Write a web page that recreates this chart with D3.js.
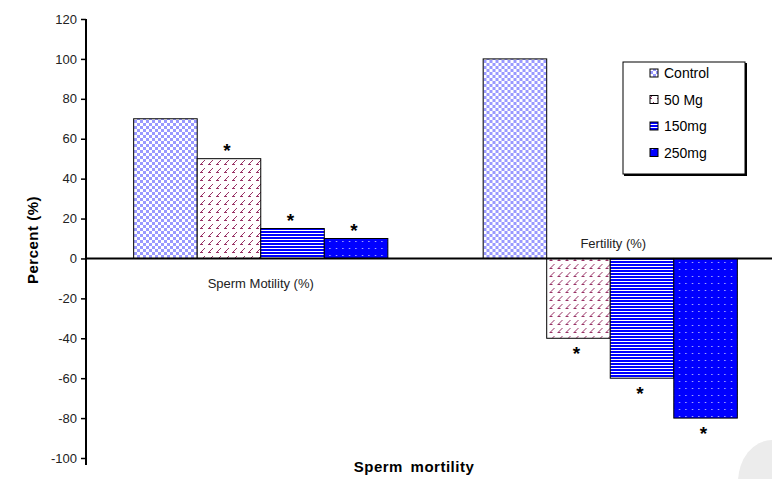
<!DOCTYPE html>
<html>
<head>
  <meta charset='utf-8'>
  <title>Sperm mortility</title>
  <script src='https://cdn.jsdelivr.net/npm/d3@7/dist/d3.min.js'></script>
  <style>
    body { margin: 0; background: #fff; }
    text { font-family: 'Liberation Sans', Arial, sans-serif; fill: #222; }
  </style>
</head>
<body>
  <svg id='chart' width='772' height='479'></svg>
  <script>
    // chart data
    const categories = ['Sperm Motility (%)', 'Fertility (%)'];
    const seriesNames = ['Control', '50 Mg', '150mg', '250mg'];
    const motility = [70, 50, 15, 10];
    const fertility = [100, -40, -60, -80];
    const starred = [false, true, true, true];
    const yTicks = [120, 100, 80, 60, 40, 20, 0, -20, -40, -60, -80, -100];

    const svg = d3.select('#chart');
    const defs = svg.append('defs');

    // fill patterns, one per series
    const pControl = defs.append('pattern').attr('id', 'p0')
        .attr('patternUnits', 'userSpaceOnUse').attr('width', 6).attr('height', 6);
    pControl.append('rect').attr('width', 6).attr('height', 6).attr('fill', '#fff');
    pControl.append('rect').attr('width', 3).attr('height', 3).attr('fill', '#9999ff');
    pControl.append('rect').attr('x', 3).attr('y', 3).attr('width', 3).attr('height', 3).attr('fill', '#9999ff');

    const p50 = defs.append('pattern').attr('id', 'p1')
        .attr('patternUnits', 'userSpaceOnUse').attr('width', 8).attr('height', 8);
    p50.append('rect').attr('width', 8).attr('height', 8).attr('fill', '#fff');
    [[6, 0], [5, 1], [4, 2], [3, 3], [2, 4], [3, 4], [4, 4]].forEach(([px, py]) => {
        p50.append('rect').attr('x', px).attr('y', py).attr('width', 1).attr('height', 1).attr('fill', '#993366');
    });

    const p150 = defs.append('pattern').attr('id', 'p2')
        .attr('patternUnits', 'userSpaceOnUse').attr('width', 3).attr('height', 3);
    p150.append('rect').attr('width', 3).attr('height', 3).attr('fill', '#0000ff');
    p150.append('rect').attr('y', 2).attr('width', 3).attr('height', 1).attr('fill', '#fff');

    const p250 = defs.append('pattern').attr('id', 'p3')
        .attr('patternUnits', 'userSpaceOnUse').attr('width', 6.5).attr('height', 7);
    p250.append('rect').attr('width', 6.5).attr('height', 7).attr('fill', '#0000ff');
    p250.append('rect').attr('x', 3).attr('y', 3).attr('width', 1).attr('height', 1).attr('fill', '#fff');

    const fills = ['url(#p0)', 'url(#p1)', 'url(#p2)', 'url(#p3)'];

    // scales
    const y = d3.scaleLinear().domain([-100, 120]).range([458, 19]);
    const x0 = d3.scaleBand().domain(categories).range([86, 785]);
    const x1 = d3.scaleBand().domain(seriesNames).range([0, x0.bandwidth()]).paddingOuter(0.75);

    const groups = [motility, fertility];

    // faint decoration in the corner
    svg.append('ellipse').attr('cx', 772).attr('cy', 482)
        .attr('rx', 34).attr('ry', 42).attr('fill', '#ececec');

    // bars
    categories.forEach((c, gi) => {
        const g = svg.append('g').attr('transform', `translate(${x0(c)},0)`);
        const rows = groups[gi].map((v, i) => ({ name: seriesNames[i], value: v, fill: fills[i], star: starred[i] }));
        g.selectAll('rect').data(rows).join('rect')
            .attr('x', d => x1(d.name))
            .attr('y', d => y(Math.max(0, d.value)))
            .attr('width', x1.bandwidth())
            .attr('height', d => Math.abs(y(d.value) - y(0)))
            .attr('fill', d => d.fill)
            .attr('stroke', '#000')
            .attr('stroke-width', 1);
        // significance stars
        g.selectAll('text.star').data(rows.filter(d => d.star)).join('text')
            .attr('class', 'star')
            .attr('x', d => x1(d.name) + x1.bandwidth() / 2 - 2)
            .attr('y', d => d.value >= 0 ? y(d.value) - 2 : y(d.value) + 22)
            .attr('text-anchor', 'middle')
            .style('font-size', '19px')
            .style('font-weight', 'bold')
            .style('fill', '#000')
            .text('*');
    });

    // y axis
    const yAxis = svg.append('g').attr('transform', 'translate(86,0)')
        .call(d3.axisLeft(y).tickValues(yTicks).tickFormat(d => String(d)).tickSize(5).tickPadding(4));
    yAxis.select('.domain').remove();
    yAxis.selectAll('.tick line').attr('stroke', '#000').attr('stroke-width', 1.5);
    yAxis.selectAll('.tick text')
        .style('font-family', "'Liberation Sans', Arial, sans-serif")
        .style('font-size', '13px').attr('fill', '#222');
    svg.append('line').attr('x1', 86).attr('x2', 86).attr('y1', y(120)).attr('y2', 465)
        .attr('stroke', '#000').attr('stroke-width', 2);

    // zero line
    svg.append('line').attr('x1', 86).attr('x2', 772).attr('y1', y(0)).attr('y2', y(0))
        .attr('stroke', '#000').attr('stroke-width', 2);

    // category labels
    svg.append('text').attr('x', x0(categories[0]) + x0.bandwidth() / 2).attr('y', y(0) + 30)
        .attr('text-anchor', 'middle').style('font-size', '13px').text(categories[0]);
    svg.append('text').attr('x', x0(categories[1]) + x0.bandwidth() / 2 + 3).attr('y', y(0) - 10)
        .attr('text-anchor', 'middle').style('font-size', '13px').text(categories[1]);

    // axis titles
    svg.append('text').attr('transform', 'translate(38,240) rotate(-90)')
        .attr('text-anchor', 'middle').style('font-size', '15px').style('font-weight', 'bold')
        .style('fill', '#000').style('letter-spacing', '0.5px').text('Percent (%)');
    svg.append('text').attr('x', 414).attr('y', 472)
        .attr('text-anchor', 'middle').style('font-size', '15px').style('font-weight', 'bold')
        .style('fill', '#000').style('letter-spacing', '0.5px').attr('word-spacing', '3px')
        .text('Sperm  mortility');

    // legend
    const lg = svg.append('g').attr('transform', 'translate(623,62)');
    lg.append('rect').attr('x', 1).attr('y', 1).attr('width', 123).attr('height', 113).attr('fill', '#000');
    lg.append('rect').attr('width', 122).attr('height', 112).attr('fill', '#fff')
        .attr('stroke', '#000').attr('stroke-width', 1);
    seriesNames.forEach((s, i) => {
        const cy = 11 + i * 26.5;
        lg.append('rect').attr('x', 27).attr('y', cy - 4).attr('width', 8).attr('height', 8)
            .attr('fill', fills[i]).attr('stroke', '#000').attr('stroke-width', 1);
        lg.append('text').attr('x', 41).attr('y', cy + 5)
            .style('font-size', '14px').style('fill', '#000').text(s);
    });
  </script>
</body>
</html>
